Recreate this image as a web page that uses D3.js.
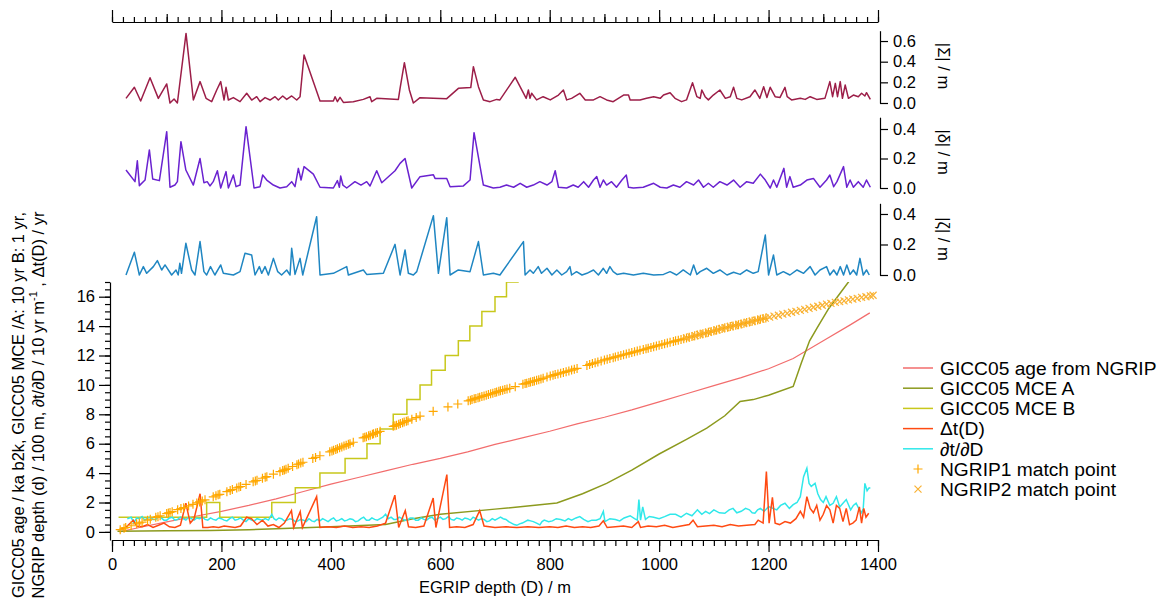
<!DOCTYPE html>
<html><head><meta charset="utf-8">
<script src="https://cdn.jsdelivr.net/npm/d3@7"></script>
<style>body{margin:0;background:#fff}svg{display:block}text{font-family:"Liberation Sans",Arial,sans-serif;fill:#000}</style>
</head><body><svg id="c" width="1161" height="603"></svg>
<script>
// ---------- DATA ----------
const sigma = [[25.6,0.045],[40.9,0.152],[52.4,0.019],[69.5,0.245],[84.7,0.045],[100,0.184],[106,0],[113.4,0.039],[119.5,0],[135.3,0.674],[148.7,0.029],[160.9,0.207],[171.9,0.045],[182.2,0.013],[191.4,0.126],[198.7,0.207],[204.8,0.029],[208.4,0.152],[212.7,0.029],[221.8,0.052],[234,0.013],[246.2,0.094],[255.3,0.029],[264.5,0.061],[270.6,0.013],[279.7,0.052],[288.8,0.029],[298,0.061],[304,0.029],[312,0.068],[319.3,0.035],[328.4,0.068],[337.6,0.029],[343.7,0.061],[351,0.465],[380.2,0.019],[404.6,0.019],[407.7,0.061],[412,0.013],[416.8,0.055],[422.9,0.006],[441,0.013],[459.4,0.035],[471.6,0.061],[474.7,0.013],[483.8,0.045],[523.4,0.035],[526.5,0.142],[534.4,0.39],[543.5,0.126],[550.8,0],[563,0.052],[611.8,0.042],[633.1,0.142],[655.7,0.149],[660.5,0.352],[669.7,0.158],[678.8,0.029],[691,0.013],[703,0.035],[709,0.03],[737,0.249],[757,0.045],[761,0.126],[764,0.045],[767,0.094],[776,0.03],[788,0.061],[801,0.03],[816,0.077],[825,0.126],[831,0.03],[840,0.045],[855,0.094],[865,0.03],[880,0.03],[892,0.061],[904,0.03],[916,0.013],[935,0.077],[944,0.077],[947,0.03],[965,0.03],[977,0.045],[990,0.061],[1002,0.045],[1008,0.077],[1020,0.1],[1029,0.045],[1041,0.013],[1050,0.03],[1061,0.197],[1069,0.061],[1075,0.045],[1078,0.126],[1084,0.061],[1090,0.03],[1099,0.077],[1111,0.126],[1121,0.045],[1130,0.061],[1136,0.152],[1142,0.045],[1151,0.03],[1166,0.061],[1175,0.126],[1184,0.045],[1191,0.158],[1197,0.054],[1203,0.152],[1212,0.061],[1221,0.054],[1230,0.152],[1234,0.061],[1242,0.03],[1258,0.045],[1267,0.035],[1276,0.061],[1288,0.035],[1303,0.045],[1312,0.207],[1317,0.061],[1322,0.19],[1326,0.061],[1331,0.207],[1335,0.045],[1340,0.174],[1346,0.045],[1355,0.077],[1364,0.061],[1370,0.094],[1376,0.068],[1379,0.1],[1386,0.035]];

const delta = [[25.6,0.122],[42,0.043],[46.3,0.185],[50,0.016],[60.4,0.054],[68.3,0.258],[74.4,0.061],[86.6,0.05],[100,0.382],[106,0.005],[115,0.02],[119.5,0.043],[126,0.314],[135,0.122],[148.7,0.02],[160.9,0.2],[168,0.036],[174,0.043],[179,0.014],[185,0.043],[192.6,0.117],[198.7,0],[208.4,0.111],[212.7,0],[221.8,0.088],[226.7,0.009],[234,0.02],[245,0.416],[259.6,0],[270.6,0.009],[275.4,0.088],[282.8,0.054],[294.9,0.02],[307,0],[319.3,0.009],[328.4,0.043],[334.5,0.009],[340.6,0.133],[345.5,0.054],[351,0.145],[368,0.094],[380.2,0.005],[404.6,0],[412,0.05],[415.6,0.005],[418,0.081],[422,0.02],[429,0],[444,0.043],[455,0.02],[465.5,0.043],[471.6,0.014],[483.8,0.117],[493,0.036],[517.3,0.117],[526.5,0.167],[535.6,0.2],[547.8,0],[563,0.077],[587.4,0.09],[590.4,0.065],[611.8,0.065],[617.9,0.009],[642.2,0.014],[654.4,0.054],[661.7,0.375],[678.8,0.02],[697,0],[709,0.005],[721,0.02],[734,0.005],[746,0.032],[758,0.005],[770,0.02],[782,0.043],[795,0.02],[804,0.043],[810,0.117],[816,0.005],[831,0],[843,0.02],[852,0.005],[862,0.043],[871,0.005],[880,0.054],[886,0.077],[892,0.005],[898,0.054],[904,0.02],[913,0.043],[922,0.005],[932,0.054],[940,0.088],[944,0.005],[953,0],[971,0.005],[990,0.032],[1002,0.005],[1014,0],[1026,0.02],[1038,0.005],[1050,0.043],[1063,0.02],[1072,0.054],[1081,0.005],[1090,0.032],[1099,0.005],[1111,0.043],[1124,0.02],[1136,0.054],[1148,0.005],[1160,0.043],[1172,0.032],[1185,0.094],[1194,0.054],[1203,0],[1209,0.054],[1215,0.005],[1228,0.133],[1233,0.005],[1239,0.077],[1245,0.005],[1258,0.02],[1270,0.054],[1282,0.065],[1294,0.005],[1306,0.054],[1312,0.088],[1319,0.009],[1325,0.043],[1337,0.145],[1343,0.005],[1349,0.054],[1355,0.005],[1364,0.043],[1373,0.005],[1379,0.054],[1386,0.005]];

const zeta = [[25.6,0],[40.9,0.149],[50,0],[57.3,0.055],[63.4,0.011],[75.6,0.055],[82.9,0.094],[90.8,0.033],[96.9,0.066],[109,0],[117,0.033],[121,0],[124,0.077],[127,0.011],[135,0.208],[145.6,0.033],[151.7,0],[160.9,0.219],[168,0.022],[173,0],[180,0.055],[188,0],[198.7,0.066],[203.5,0.011],[221.8,0],[234,0.022],[243,0.142],[255.3,0.131],[261.4,0],[269.3,0.055],[273.6,0.011],[279.7,0.055],[285.8,0],[295,0.109],[302.9,0.022],[310,0],[319.3,0.033],[325.4,0],[328.4,0.175],[334.5,0.004],[343.7,0.109],[348.6,0],[374,0.382],[380.2,0],[404.6,0.011],[429,0.055],[432,0],[459.4,0.033],[465.5,0.004],[496,0.011],[517.3,0.201],[526.5,0],[535.6,0.164],[541.7,0.011],[550.8,0],[557,0.022],[587.4,0.389],[596.5,0.011],[611.8,0.376],[617.9,0],[633,0.033],[654.4,0.022],[669.7,0.219],[678.8,0],[697,0.011],[709,0],[752,0.219],[755,0],[764,0.033],[770,0.011],[779,0.055],[785,0.011],[795,0.044],[804,0],[813,0.033],[822,0],[831,0.022],[837,0.055],[840,0],[849,0.022],[859,0],[868,0.011],[880,0.033],[889,0],[898,0.044],[904,0.011],[910,0.055],[916,0.022],[923,0.004],[935,0.011],[953,0],[971,0.011],[990,0],[1008,0.004],[1020,0.022],[1032,0],[1044,0.033],[1057,0],[1063,0.066],[1069,0.004],[1075,0.022],[1087,0.044],[1099,0.011],[1111,0.033],[1124,0],[1136,0.018],[1148,0.004],[1160,0.033],[1172,0.011],[1181,0.022],[1194,0.262],[1200,0],[1209,0.131],[1215,0],[1227,0.022],[1239,0],[1252,0.033],[1264,0.011],[1276,0.055],[1285,0],[1294,0.033],[1306,0.055],[1312,0],[1319,0.033],[1325,0],[1331,0.055],[1337,0],[1343,0.066],[1349,0.004],[1355,0.033],[1361,0],[1367,0.109],[1373,0],[1379,0.033],[1384,0]];

const ageNGRIP = [[14,0.0],[50,0.3],[100,0.68],[150,1.05],[200,1.4],[250,1.8],[300,2.25],[350,2.75],[400,3.25],[450,3.7],[500,4.15],[550,4.6],[600,5.0],[650,5.45],[700,5.95],[750,6.4],[800,6.85],[850,7.35],[900,7.8],[950,8.3],[1000,8.85],[1050,9.4],[1100,9.95],[1150,10.5],[1200,11.1],[1245,11.8],[1300,13.0],[1350,14.1],[1385,14.9]];

const mceA = [[10,0.05],[100,0.08],[180,0.1],[250,0.15],[300,0.22],[400,0.35],[500,0.5],[550,0.9],[600,1.2],[700,1.55],[782,1.84],[813,1.97],[860,2.6],[904,3.3],[950,4.2],[1000,5.3],[1050,6.3],[1087,7.06],[1120,7.9],[1148,8.87],[1172,9.0],[1200,9.3],[1245,9.9],[1260,11.5],[1275,13.0],[1289,13.9],[1310,15.2],[1346,17.0],[1360,17.8]];

const mceBDepth = [12,173,197,292,335,380,426,466,490,514,539,563,584,609,633,654,676,700,721,742,762];
const mceBValue = [1,2,1,2,3,4,5,6,7,8,9,10,11,12,13,14,15,16,17,18,18];

const deltaT = [[12,0.14],[25,0.3],[39,0.8],[45,0.4],[55,0.35],[65,0.5],[75,0.3],[85,0.45],[95,0.6],[105,0.35],[115,0.3],[125,0.45],[135,1.95],[143,0.6],[150,0.9],[161,2.6],[166,0.3],[175,0.3],[185,0.35],[195,0.3],[205,0.4],[215,0.35],[225,0.3],[235,0.4],[246,1.0],[255,0.9],[265,0.5],[275,0.8],[285,0.4],[295,0.5],[305,0.3],[315,0.6],[328,1.45],[332,0.3],[344,1.38],[348,0.3],[374,2.4],[380,0.3],[395,0.35],[410,0.3],[425,0.4],[440,0.3],[455,0.35],[470,0.3],[485,0.4],[500,0.6],[517,2.5],[524,0.3],[536,1.45],[542,0.35],[555,0.3],[570,0.4],[587,2.3],[592,0.3],[612,3.9],[617,0.3],[630,0.35],[645,0.3],[660,0.5],[672,1.45],[680,0.4],[700,0.3],[720,0.35],[740,0.3],[760,0.35],[780,0.3],[800,0.35],[815,0.3],[830,0.4],[845,0.3],[860,0.35],[875,0.3],[890,0.4],[898,0.75],[905,0.3],[920,0.35],[935,0.4],[950,0.3],[962,0.7],[966,0.3],[980,0.4],[995,0.35],[1010,0.45],[1025,0.3],[1040,0.4],[1055,0.5],[1062,0.8],[1070,0.35],[1085,0.4],[1100,0.45],[1115,0.35],[1130,0.5],[1145,0.4],[1160,0.45],[1175,0.5],[1181,0.8],[1190,0.6],[1196,4.1],[1201,0.6],[1207,2.36],[1212,0.6],[1220,0.5],[1230,0.7],[1240,0.6],[1250,0.9],[1258,1.4],[1264,1.0],[1270,2.4],[1276,1.6],[1282,1.3],[1288,1.8],[1294,0.8],[1300,1.2],[1306,1.8],[1312,1.5],[1318,0.6],[1324,1.8],[1330,1.6],[1336,0.7],[1342,1.6],[1348,0.5],[1354,0.6],[1360,0.8],[1366,1.7],[1370,0.6],[1374,1.6],[1378,1.0],[1383,1.27]];

const dtdD = [[28,0.9],[35,1.0],[40,0.6],[45,0.95],[50,0.9],[55,1.05],[60,0.8],[65,0.95],[70,1.0],[75,0.85],[80,0.85],[85,1.05],[90,0.95],[95,0.8],[100,0.8],[105,0.95],[110,1.0],[115,0.8],[120,0.85],[125,1.0],[130,0.9],[135,0.8],[140,1.0],[145,0.9],[150,0.8],[155,0.95],[160,0.9],[165,1.0],[170,0.85],[175,0.8],[180,0.95],[185,0.85],[190,0.8],[195,0.95],[200,0.9],[205,0.8],[210,0.75],[215,0.9],[220,1.0],[225,0.8],[230,0.85],[235,0.95],[240,0.8],[245,0.7],[250,0.9],[255,0.8],[260,0.75],[265,0.9],[270,0.85],[275,0.8],[280,0.9],[286,0.8],[292,1.2],[296,0.9],[300,0.8],[305,0.95],[310,0.9],[315,0.75],[320,0.8],[325,0.9],[330,0.85],[335,0.7],[340,0.75],[345,0.85],[350,0.8],[355,0.7],[360,0.9],[365,0.75],[370,0.7],[375,0.85],[380,0.75],[385,0.9],[390,0.8],[395,0.7],[400,0.85],[405,0.95],[410,0.75],[415,0.8],[420,0.9],[425,0.75],[430,0.8],[435,0.9],[440,0.85],[445,0.7],[450,0.75],[455,0.9],[460,1.0],[465,0.8],[470,0.8],[475,0.95],[480,0.85],[485,0.8],[490,0.9],[495,1.0],[500,1.2],[505,0.9],[510,1.0],[515,0.85],[520,0.85],[525,1.0],[530,0.9],[535,0.8],[540,0.8],[545,0.95],[550,0.95],[555,0.8],[560,0.8],[565,0.95],[570,0.85],[575,0.8],[580,0.95],[585,1.0],[590,0.8],[595,0.9],[600,1.0],[605,0.85],[610,0.9],[615,1.05],[620,0.85],[625,0.8],[630,0.95],[635,0.9],[640,0.8],[645,0.95],[650,0.9],[655,0.8],[660,1.0],[665,0.9],[670,0.8],[675,0.9],[680,0.85],[685,0.7],[690,0.75],[695,0.9],[700,0.8],[705,0.9],[710,1.0],[715,0.9],[720,0.85],[725,0.7],[730,0.6],[735,0.5],[740,0.45],[745,0.55],[750,0.6],[755,0.7],[760,0.8],[765,0.75],[770,0.7],[776,0.6],[782,0.48],[786,0.7],[790,0.8],[798,0.7],[805,0.75],[812,0.9],[820,0.85],[828,0.75],[834,0.9],[840,0.8],[848,0.95],[855,1.04],[862,0.85],[870,0.7],[877,0.8],[885,0.8],[892,0.9],[898,1.4],[901,0.7],[910,0.9],[920,0.85],[928,0.75],[936,0.95],[947,1.1],[955,0.9],[960,0.8],[963,2.2],[966,0.8],[970,1.7],[975,0.85],[982,1.05],[990,1.0],[1000,0.9],[1010,1.04],[1020,1.2],[1030,1.2],[1040,1.0],[1050,1.27],[1060,1.1],[1070,1.5],[1078,1.2],[1085,1.4],[1092,1.25],[1100,1.5],[1110,1.3],[1120,1.27],[1128,1.5],[1135,1.6],[1142,1.3],[1150,1.4],[1158,1.6],[1165,1.5],[1170,1.3],[1175,1.27],[1180,1.5],[1185,1.6],[1192,1.4],[1200,1.72],[1208,1.6],[1215,1.5],[1222,1.8],[1230,1.95],[1238,1.6],[1245,1.85],[1252,2.0],[1258,2.4],[1264,3.76],[1270,4.33],[1274,3.3],[1278,3.1],[1285,3.3],[1290,2.6],[1295,2.2],[1300,2.0],[1305,2.4],[1312,1.8],[1318,1.95],[1324,2.4],[1330,1.7],[1336,1.95],[1342,2.2],[1350,1.5],[1355,1.8],[1360,1.95],[1366,1.5],[1370,1.3],[1373,1.6],[1376,3.3],[1380,2.8],[1383,2.97],[1386,3.0]];

const ngrip1 = [[15,0.15],[22,0.25],[25,0.3],[35,0.42],[45,0.55],[50,0.61],[55,0.67],[65,0.8],[70,0.86],[80,0.99],[84,1.04],[88,1.1],[100,1.25],[103,1.29],[106,1.32],[110,1.38],[120,1.51],[126,1.59],[131,1.65],[140,1.77],[148,1.88],[155,1.97],[160,2.04],[165,2.11],[170,2.18],[185,2.39],[190,2.46],[194,2.52],[197,2.56],[210,2.74],[216,2.82],[220,2.88],[228,2.99],[232,3.05],[235,3.09],[245,3.23],[258,3.41],[262,3.47],[265,3.51],[275,3.65],[280,3.72],[283,3.76],[295,3.93],[307,4.1],[312,4.17],[315,4.21],[318,4.26],[322,4.33],[330,4.45],[338,4.57],[341,4.62],[345,4.68],[349,4.74],[367,5.0],[372,5.07],[380,5.18],[398,5.45],[402,5.51],[405,5.56],[409,5.61],[412,5.66],[416,5.72],[420,5.78],[424,5.84],[428,5.9],[432,5.96],[435,6.0],[441,6.1],[459,6.4],[462,6.44],[465,6.48],[469,6.54],[472,6.58],[476,6.64],[478,6.67],[482,6.72],[485,6.77],[490,6.84],[514,7.18],[517,7.22],[520,7.26],[524,7.32],[527,7.37],[531,7.43],[534,7.47],[538,7.53],[541,7.57],[548,7.67],[556,7.78],[563,7.88],[587,8.2],[614,8.5],[632,8.7],[651,8.92],[655,8.96],[658,9.0],[662,9.05],[665,9.08],[669,9.13],[672,9.16],[676,9.21],[680,9.25],[684,9.3],[688,9.34],[692,9.39],[696,9.43],[700,9.48],[703,9.52],[707,9.56],[710,9.6],[714,9.64],[718,9.68],[722,9.72],[727,9.77],[737,9.88],[751,10.05],[755,10.09],[758,10.12],[762,10.17],[765,10.2],[769,10.24],[772,10.27],[776,10.31],[780,10.35],[784,10.4],[788,10.45],[795,10.53],[801,10.6],[806,10.65],[810,10.7],[815,10.75],[820,10.8],[825,10.85],[830,10.9],[835,10.95],[840,11.01],[845,11.07],[850,11.12],[868,11.32],[873,11.39],[878,11.45],[883,11.5],[888,11.55],[894,11.63],[900,11.7],[905,11.75],[910,11.8],[916,11.85],[920,11.9],[925,11.95],[930,12.0],[935,12.05],[940,12.1],[945,12.15],[950,12.2],[955,12.25],[960,12.3],[965,12.35],[971,12.4],[976,12.46],[980,12.5],[985,12.55],[990,12.6],[995,12.65],[1000,12.7],[1005,12.75],[1010,12.8],[1015,12.85],[1020,12.9],[1026,12.95],[1030,13.0],[1035,13.04],[1040,13.09],[1045,13.14],[1050,13.19],[1055,13.24],[1060,13.29],[1065,13.34],[1070,13.39],[1075,13.44],[1080,13.48],[1085,13.53],[1090,13.58],[1095,13.63],[1100,13.68],[1105,13.73],[1110,13.78],[1115,13.83],[1120,13.88],[1125,13.92],[1130,13.97],[1135,14.01],[1140,14.06],[1145,14.1],[1150,14.15],[1155,14.19],[1160,14.24],[1165,14.28],[1170,14.33],[1175,14.37],[1180,14.42],[1185,14.46],[1190,14.51],[1195,14.55]];

const ngrip2 = [[1050,13.19],[1058,13.27],[1066,13.35],[1074,13.43],[1082,13.5],[1090,13.58],[1098,13.66],[1106,13.74],[1114,13.82],[1122,13.89],[1130,13.97],[1138,14.04],[1146,14.11],[1154,14.18],[1162,14.25],[1170,14.33],[1178,14.4],[1186,14.47],[1194,14.54],[1202,14.61],[1210,14.68],[1218,14.74],[1226,14.81],[1234,14.87],[1242,14.94],[1250,15.0],[1258,15.07],[1266,15.14],[1274,15.21],[1282,15.28],[1290,15.35],[1298,15.42],[1306,15.49],[1314,15.55],[1322,15.61],[1330,15.67],[1338,15.72],[1346,15.78],[1354,15.83],[1362,15.89],[1370,15.95],[1378,16.0],[1386,16.06],[1391,16.1]];

const xTickLabels = ["0","200","400","600","800","1000","1200","1400"];
const legendLabels = ["GICC05 age from NGRIP","GICC05 MCE A","GICC05 MCE B","\u0394t(D)","\u2202t/\u2202D","NGRIP1 match point","NGRIP2 match point"];

// ---------- DRAW ----------
const svg = d3.select("#c");
const FONT = 16.5;
const x = d3.scaleLinear([0,1400],[112,878]);
const yM = d3.scaleLinear([-0.55,17],[540,282]);
const yS = d3.scaleLinear([0,0.7],[103,30.7]);
const yDl = d3.scaleLinear([0,0.48],[188,117.2]);
const yZ = d3.scaleLinear([0,0.47],[275,203.3]);

const C = {sig:"#9c1e48", del:"#6a22d0", zet:"#1f86c2", age:"#f26d6d", A:"#8c9a1e", B:"#c8c81c", dt:"#ff4a12", dd:"#30e8ea", m1:"#ffa800", m2:"#f9b233"};

function styleAxis(g){ g.selectAll("path,line").attr("stroke","#000").attr("stroke-width",1.2); g.selectAll("text").attr("font-size",FONT).attr("font-family","Liberation Sans, Arial, sans-serif"); }

// top axis
const minorX = d3.range(0,1401,20), medX = d3.range(100,1401,200), majX = d3.range(0,1401,200);
svg.append("g").attr("transform","translate(0,22)").call(d3.axisTop(x).tickValues(minorX).tickSize(5).tickSizeOuter(0).tickFormat("")).call(styleAxis);
svg.append("g").attr("transform","translate(0,22)").call(d3.axisTop(x).tickValues(medX).tickSize(8).tickFormat("")).call(g=>g.select(".domain").remove()).call(styleAxis);
svg.append("g").attr("transform","translate(0,22)").call(d3.axisTop(x).tickValues(majX).tickSize(12).tickFormat("")).call(g=>g.select(".domain").remove()).call(styleAxis);

// bottom axis
svg.append("g").attr("transform","translate(0,540)").call(d3.axisBottom(x).tickValues(minorX).tickSize(6).tickSizeOuter(0).tickFormat("")).call(styleAxis);
svg.append("g").attr("transform","translate(0,540)").call(d3.axisBottom(x).tickValues(majX).tickSize(12).tickPadding(6).tickFormat((d,i)=>xTickLabels[i])).call(g=>g.select(".domain").remove()).call(styleAxis);
svg.append("text").attr("x",495).attr("y",593).attr("text-anchor","middle").attr("font-size",FONT).text("EGRIP depth (D) / m");

// left axis
svg.append("g").attr("transform","translate(110,0)").call(d3.axisLeft(yM).tickValues(d3.range(0,17.01,0.5)).tickSize(5).tickSizeOuter(0).tickFormat("")).call(styleAxis);
svg.append("g").attr("transform","translate(110,0)").call(d3.axisLeft(yM).tickValues(d3.range(0,17,2)).tickSize(11).tickPadding(4).tickFormat(d3.format("d"))).call(g=>g.select(".domain").remove()).call(styleAxis);
const yl = svg.append("text").attr("transform","translate(0,405) rotate(-90)").attr("text-anchor","middle").attr("font-size",FONT);
yl.append("tspan").attr("x",0).attr("y",24).text("GICC05 age / ka b2k, GICC05 MCE /A: 10 yr B: 1 yr,");
const t2 = yl.append("tspan").attr("x",0).attr("y",44);
t2.append("tspan").text("NGRIP depth (d) / 100 m, \u2202t/\u2202D / 10 yr m");
t2.append("tspan").attr("dy",-7).attr("font-size",11).text("-1");
t2.append("tspan").attr("dy",7).text(" , \u0394t(D) / yr");

// right panels
const panels = [
  {data:sigma, y:yS, col:C.sig, ticks:[0,0.2,0.4,0.6], label:"|\u03a3| / m", cy:66},
  {data:delta, y:yDl, col:C.del, ticks:[0,0.2,0.4], label:"|\u03b4| / m", cy:152},
  {data:zeta, y:yZ, col:C.zet, ticks:[0,0.2,0.4], label:"|\u03b6| / m", cy:239}
];
panels.forEach(p=>{
  svg.append("g").attr("transform","translate(880,0)").call(d3.axisRight(p.y).tickValues(p.ticks).tickSize(8).tickSizeOuter(0).tickPadding(5).tickFormat(d3.format(".1f"))).call(styleAxis);
  svg.append("path").datum(p.data).attr("fill","none").attr("stroke",p.col).attr("stroke-width",1.5).attr("stroke-linejoin","round")
    .attr("d",d3.line().x(d=>x(d[0])).y(d=>p.y(d[1])));
  svg.append("text").attr("transform",`translate(938,${p.cy}) rotate(90)`).attr("text-anchor","middle").attr("font-size",FONT).text(p.label);
});

// main plot
svg.append("defs").append("clipPath").attr("id","clip").append("rect").attr("x",111).attr("y",282).attr("width",790).attr("height",258);
const main = svg.append("g").attr("clip-path","url(#clip)");
const ln = d3.line().x(d=>x(d[0])).y(d=>yM(d[1]));
main.append("path").datum(ageNGRIP).attr("fill","none").attr("stroke",C.age).attr("stroke-width",1.2).attr("d",ln);
main.append("path").datum(mceA).attr("fill","none").attr("stroke",C.A).attr("stroke-width",1.5).attr("d",ln);
const mceB = mceBDepth.map((d,i)=>[d,mceBValue[i]]);
main.append("path").datum(mceB).attr("fill","none").attr("stroke",C.B).attr("stroke-width",1.5).attr("d",d3.line().curve(d3.curveStepAfter).x(d=>x(d[0])).y(d=>yM(d[1])));
main.append("path").datum(dtdD).attr("fill","none").attr("stroke",C.dd).attr("stroke-width",1.5).attr("d",ln);
main.append("path").datum(deltaT).attr("fill","none").attr("stroke",C.dt).attr("stroke-width",1.5).attr("d",ln);
const plus = "M-4.5,0H4.5M0,-4.5V4.5", cross = "M-3.5,-3.5L3.5,3.5M-3.5,3.5L3.5,-3.5";
main.append("g").selectAll("path").data(ngrip1).join("path").attr("d",plus).attr("transform",d=>`translate(${x(d[0])},${yM(d[1])})`).attr("stroke",C.m1).attr("stroke-width",1.2).attr("fill","none");
main.append("g").selectAll("path").data(ngrip2).join("path").attr("d",cross).attr("transform",d=>`translate(${x(d[0])},${yM(d[1])})`).attr("stroke",C.m2).attr("stroke-width",1.2).attr("fill","none");

// legend
const lg = svg.append("g").attr("transform","translate(903,368)");
const lcols = [C.age,C.A,C.B,C.dt,C.dd];
legendLabels.forEach((t,i)=>{
  const yy = i*20.2;
  if(i<5) lg.append("line").attr("x1",0).attr("x2",30).attr("y1",yy).attr("y2",yy).attr("stroke",lcols[i]).attr("stroke-width",1.5);
  else lg.append("path").attr("d",i===5?plus:cross).attr("transform",`translate(15,${yy})`).attr("stroke",i===5?C.m1:C.m2).attr("stroke-width",1.2);
  lg.append("text").attr("x",37).attr("y",yy).attr("dy","0.35em").attr("font-size",19.2).text(t);
});
</script></body></html>
